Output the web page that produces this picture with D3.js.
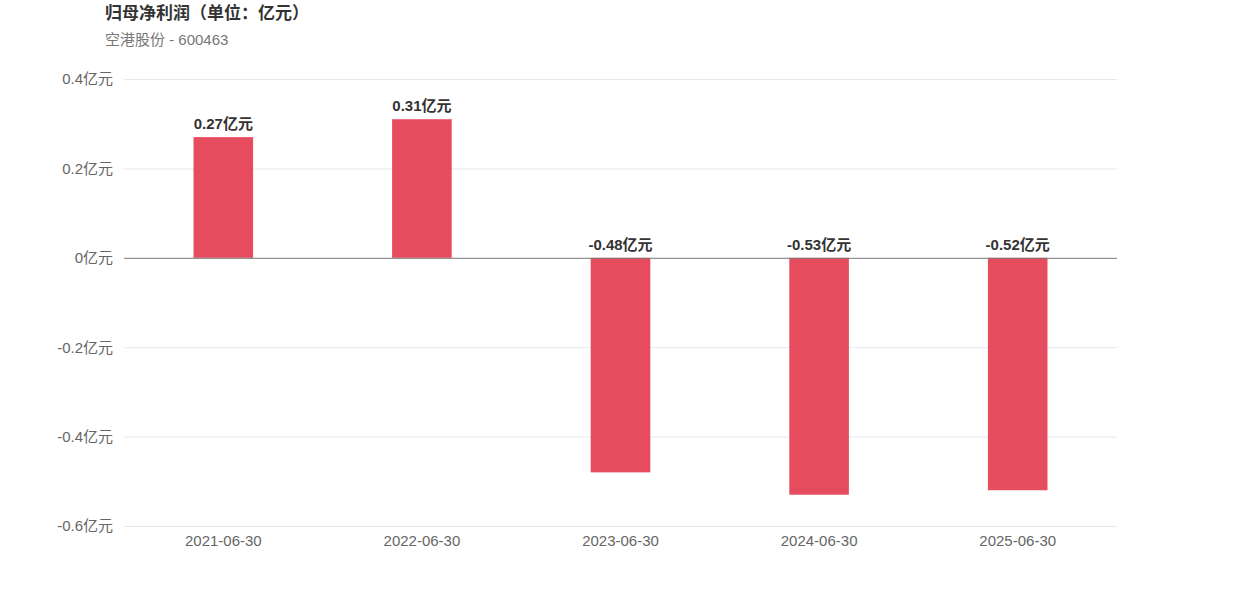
<!DOCTYPE html>
<html>
<head>
<meta charset="utf-8">
<script src="https://cdn.jsdelivr.net/npm/d3@7"></script>
<style>
  body { margin: 0; background: #fff; }
  svg { font-family: "Liberation Sans", "Noto Sans CJK SC", sans-serif; }
</style>
</head>
<body>
<div id="chart"></div>
<script>
const categories = ["2021-06-30", "2022-06-30", "2023-06-30", "2024-06-30", "2025-06-30"];
const values = [0.27, 0.31, -0.48, -0.53, -0.52];
const yTicks = [0.4, 0.2, 0, -0.2, -0.4, -0.6];

const width = 1242, height = 596;
const margin = { top: 79, right: 125, bottom: 70, left: 124 };

// plain hyphen instead of d3's unicode minus
const fmt = (spec) => { const f = d3.format(spec); return d => f(d).replace("\u2212", "-"); };

const svg = d3.select("#chart")
  .append("svg")
  .attr("width", width)
  .attr("height", height);

svg.append("text")
  .attr("x", 105)
  .attr("y", 19)
  .attr("font-size", 17)
  .attr("font-weight", "bold")
  .attr("fill", "#333")
  .text("归母净利润（单位：亿元）");

svg.append("text")
  .attr("x", 105)
  .attr("y", 45)
  .attr("font-size", 15)
  .attr("fill", "#777")
  .text("空港股份 - 600463");

const x = d3.scaleBand()
  .domain(categories)
  .range([margin.left, width - margin.right])
  .paddingInner(0.7)
  .paddingOuter(0.35);

const y = d3.scaleLinear()
  .domain([-0.6, 0.4])
  .range([height - margin.bottom, margin.top]);

// grid
svg.append("g")
  .selectAll("line")
  .data(yTicks.filter(d => d !== 0))
  .join("line")
  .attr("x1", margin.left)
  .attr("x2", width - margin.right)
  .attr("y1", d => y(d) + 0.5)
  .attr("y2", d => y(d) + 0.5)
  .attr("stroke", "#e6e8ee")
  .attr("stroke-width", 1);

// y axis labels
const f1 = fmt(".1f");
const yAxis = svg.append("g")
  .attr("transform", `translate(${margin.left - 8},0)`)
  .call(d3.axisLeft(y).tickValues(yTicks).tickSize(0).tickFormat(d => (d === 0 ? "0" : f1(d)) + "亿元"));
yAxis.select(".domain").remove();
yAxis.selectAll("text")
  .attr("font-size", 15)
  .attr("fill", "#666")
  .attr("font-family", "Liberation Sans, Noto Sans CJK SC, sans-serif");

// bars
svg.append("g")
  .selectAll("rect")
  .data(values)
  .join("rect")
  .attr("x", (d, i) => x(categories[i]))
  .attr("width", x.bandwidth())
  .attr("y", d => y(Math.max(0, d)))
  .attr("height", d => Math.abs(y(d) - y(0)))
  .attr("fill", "#e64b5e");

// zero line
svg.append("line")
  .attr("x1", margin.left)
  .attr("x2", width - margin.right)
  .attr("y1", y(0) + 0.5)
  .attr("y2", y(0) + 0.5)
  .attr("stroke", "#777")
  .attr("stroke-width", 1);

// x labels
const xAxis = svg.append("g")
  .attr("transform", `translate(0,${height - margin.bottom})`)
  .call(d3.axisBottom(x).tickSize(0).tickPadding(9));
xAxis.select(".domain").remove();
xAxis.selectAll("text")
  .attr("font-size", 15)
  .attr("fill", "#666")
  .attr("font-family", "Liberation Sans, Noto Sans CJK SC, sans-serif");

// value labels
const f2 = fmt(".2f");
svg.append("g")
  .selectAll("text")
  .data(values)
  .join("text")
  .attr("x", (d, i) => x(categories[i]) + x.bandwidth() / 2)
  .attr("y", d => y(Math.max(0, d)) - 8)
  .attr("text-anchor", "middle")
  .attr("font-size", 15)
  .attr("font-weight", "bold")
  .attr("fill", "#333")
  .text(d => f2(d) + "亿元");
</script>
</body>
</html>
